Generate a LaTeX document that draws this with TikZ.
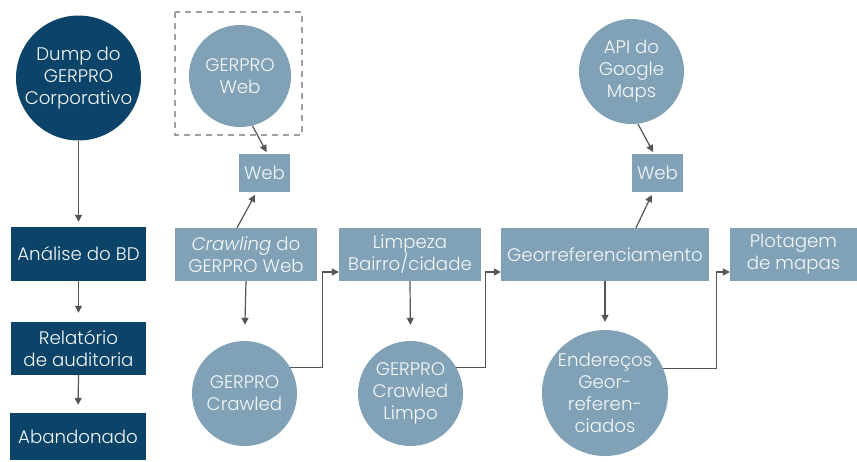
\documentclass[tikz,border=0pt]{standalone}
\usepackage{fontspec}
\setmainfont{Poppins Light}[ItalicFont={Poppins Light Italic}]
\usetikzlibrary{arrows.meta,calc}
\definecolor{dk}{HTML}{0B4468}
\definecolor{lt}{HTML}{81A2B6}
\definecolor{ar}{HTML}{555555}
\begin{document}
\begin{tikzpicture}[x=1pt,y=-1pt,
  every node/.style={font=\fontsize{18.2}{22}\selectfont, text=white!92!lt, align=center, inner sep=0pt},
  dkbox/.style args={#1x#2}{rectangle, fill=dk, minimum width=#1pt, minimum height=#2pt},
  ltbox/.style args={#1x#2}{rectangle, fill=lt, minimum width=#1pt, minimum height=#2pt},
  dkcirc/.style={circle, fill=dk, minimum size=#1pt},
  ltcirc/.style={circle, fill=lt, minimum size=#1pt},
  arr/.style={draw=ar, line width=1.2pt, -{Triangle[length=7pt,width=7pt]}}]
\useasboundingbox (0,0) rectangle (857,461);
\fill[white] (0,0) rectangle (857,461);

% left column
\node[dkcirc=125] (dump) at (78.5,78) {Dump do\\GERPRO\\Corporativo};
\node[dkbox=135x54] (ana) at (78.5,254) {Análise do BD};
\node[dkbox=135x53] (rel) at (78.5,348.5) {Relatório\\de auditoria};
\node[dkbox=136x47] (aba) at (78,436.5) {Abandonado};

% dashed frame and GERPRO Web
\draw[gray!75, line width=1.3pt, dash pattern=on 6pt off 5pt] (175,12) rectangle (302,135);
\node[ltcirc=102] (gw) at (240,76) {GERPRO\\Web};
\node[ltbox=51x38] (web1) at (264.5,173) {Web};
\node[ltbox=142x53] (crawl) at (246,254.5) {\textit{Crawling} do\\GERPRO Web};
\node[ltcirc=105] (gc) at (244.5,393.5) {GERPRO\\Crawled};
\node[ltbox=142x53] (limp) at (410,254.5) {Limpeza\\Bairro/cidade};
\node[ltcirc=105] (gcl) at (410.5,393.5) {GERPRO\\Crawled\\Limpo};
\node[ltbox=208x53] (geo) at (605,254.5) {Georreferenciamento};
\node[ltbox=51x38] (web2) at (657.5,173) {Web};
\node[ltcirc=105] (api) at (631.5,71.5) {API do\\Google\\Maps};
\node[ltcirc=126] (end) at (605,393) {Endereços\\Geor-\\referen-\\ciados};
\node[ltbox=127x53] (plot) at (793.5,254.5) {Plotagem\\de mapas};

% connectors
\draw[arr, shorten >=5pt] (dump.south) -- (ana.north);
\draw[arr, shorten >=9pt] (ana.south) -- (rel.north);
\draw[arr, shorten >=8pt] (rel.south) -- (aba.north);

\draw[arr, shorten >=2pt] (gw.-76) -- ([xshift=3pt]web1.north);
\draw[arr, shorten >=3pt] ([xshift=-9pt]crawl.north) -- ([xshift=-8pt]web1.south);
\draw[arr, shorten >=16pt] (crawl.south) -- (gc.north);
\draw[arr] (gc.30) -- ++(32,0) |- ($(limp.west)+(0,17.5)$);
\draw[arr, shorten >=16pt] (limp.south) -- (gcl.north);
\draw[arr] (gcl.30) -- ++(29,0) |- ($(geo.west)+(0,17.5)$);
\draw[arr, shorten >=3pt] ([xshift=31pt]geo.north) -- ([xshift=-4.5pt]web2.south);
\draw[arr, shorten >=2pt] (api.-83) -- ([xshift=-3.5pt]web2.north);
\draw[arr, shorten >=8pt] (geo.south) -- (end.north);
\draw[arr] (end.23) -- ++(53,0) |- ($(plot.west)+(0,17.5)$);
\end{tikzpicture}
\end{document}
